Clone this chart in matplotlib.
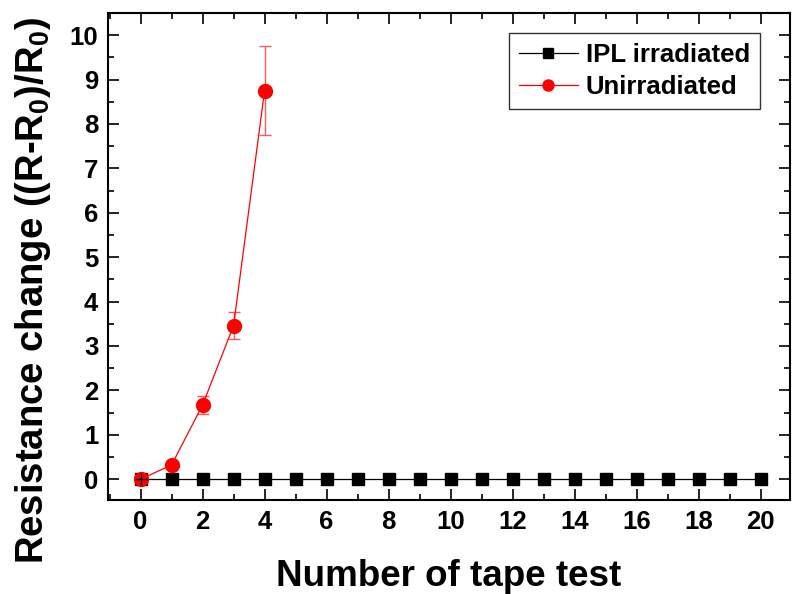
import numpy as np
import matplotlib.pyplot as plt
from matplotlib.ticker import MultipleLocator

plt.rcParams['font.family'] = ['Liberation Sans', 'DejaVu Sans']
plt.rcParams['font.weight'] = 'bold'
plt.rcParams['mathtext.fontset'] = 'custom'
plt.rcParams['mathtext.rm'] = 'Liberation Sans:bold'
plt.rcParams['mathtext.bf'] = 'Liberation Sans:bold'

# tape test cycles
tests_ipl = list(range(0, 21))
change_ipl = [0.0] * 21

tests_unirr = [0, 1, 2, 3, 4]
change_unirr = [0.0, 0.32, 1.67, 3.46, 8.75]
err_unirr = [0.0, 0.0, 0.2, 0.3, 1.0]

fig = plt.figure(figsize=(7.92, 5.94), dpi=100)
ax = fig.add_axes([0.1364, 0.1582, 0.8611, 0.8199])

ax.plot(tests_ipl, change_ipl, color='black', marker='s', markersize=8.5,
        linewidth=0.9, label='IPL irradiated', zorder=3)
ax.errorbar(tests_unirr, change_unirr, yerr=err_unirr, fmt='none',
            ecolor=(1, 0.35, 0.35), elinewidth=1.0, capsize=4, capthick=1.0, zorder=4)
ax.plot(tests_unirr, change_unirr, color='red', marker='o', markersize=10,
        linewidth=0.9, label='Unirradiated', zorder=4)
# error cross of the first irradiated point sits above the red marker
ax.plot(tests_ipl[0], change_ipl[0], marker='+', color='black', markersize=9,
        markeredgewidth=1.0, linestyle='none', zorder=5)

ax.set_xlim(-1.05, 20.95)
ax.set_ylim(-0.47, 10.5)
ax.xaxis.set_major_locator(MultipleLocator(2))
ax.xaxis.set_minor_locator(MultipleLocator(1))
ax.yaxis.set_major_locator(MultipleLocator(1))
ax.yaxis.set_minor_locator(MultipleLocator(0.5))

ax.tick_params(which='both', direction='in', top=True, right=True, width=1.2)
ax.tick_params(which='major', length=8, labelsize=18.5, pad=7)
ax.tick_params(which='minor', length=4.5)
for sp in ax.spines.values():
    sp.set_linewidth(1.5)

ax.set_xlabel('Number of tape test', fontsize=26.5, fontweight='bold', labelpad=18)
ax.set_ylabel('Resistance change ((R-R$_\\mathrm{0}$)/R$_\\mathrm{0}$)', fontsize=27.5,
              fontweight='bold')
ax.yaxis.set_label_coords(-0.08, 0.43)

leg = ax.legend(loc='upper right', bbox_to_anchor=(0.975, 0.985), fontsize=18.5,
                frameon=True, fancybox=False, edgecolor='black', handlelength=2.3,
                handletextpad=0.3, labelspacing=0.3, borderpad=0.4, markerscale=0.8)
leg.get_frame().set_linewidth(1.0)

fig.savefig('out.png', dpi=100)
